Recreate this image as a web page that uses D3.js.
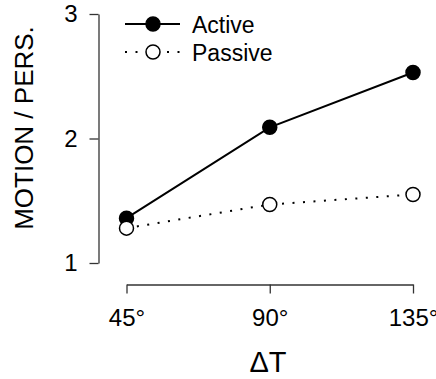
<!DOCTYPE html>
<html>
<head>
<meta charset="utf-8">
<script src="https://cdn.jsdelivr.net/npm/d3@7"></script>
<style>
  body { margin: 0; background: #fff; }
  text { font-family: "Liberation Sans", Arial, sans-serif; fill: #000; }
</style>
</head>
<body>
<div id="chart"></div>
<script>
// data
var angles = ["45°", "90°", "135°"];
var active = [1.36, 2.09, 2.53];
var passive = [1.28, 1.47, 1.55];
var yTicks = [1, 2, 3];

var svgWidth = 436, svgHeight = 379;

var svg = d3.select("#chart")
  .append("svg")
  .attr("width", svgWidth)
  .attr("height", svgHeight);

var x = d3.scalePoint()
  .domain(angles)
  .range([126.5, 413]);

var y = d3.scaleLinear()
  .domain([1, 3])
  .range([263, 14]);

// y axis
var yAxis = svg.append("g")
  .attr("transform", "translate(98.5,0)")
  .call(d3.axisLeft(y).tickValues(yTicks).tickFormat(d3.format("d"))
    .tickSize(9).tickSizeOuter(0).tickPadding(12));
yAxis.select(".domain").attr("stroke", "#333").attr("stroke-width", 1.3);
yAxis.selectAll(".tick line").attr("stroke", "#333").attr("stroke-width", 1.3);
yAxis.selectAll(".tick text").style("font-size", "24px").attr("fill", "#000");

// x axis
var xAxis = svg.append("g")
  .attr("transform", "translate(0,284.5)")
  .call(d3.axisBottom(x).tickSize(9).tickSizeOuter(0).tickPadding(15));
xAxis.select(".domain").attr("stroke", "#333").attr("stroke-width", 1.3);
xAxis.selectAll(".tick line").attr("stroke", "#333").attr("stroke-width", 1.3);
xAxis.selectAll(".tick text").style("font-size", "24px").attr("fill", "#000");

// axis titles
svg.append("text")
  .attr("transform", "translate(33,128) rotate(-90)")
  .attr("text-anchor", "middle")
  .style("font-size", "26px")
  .text("MOTION / PERS.");

svg.append("text")
  .attr("x", 268)
  .attr("y", 372)
  .attr("text-anchor", "middle")
  .style("font-size", "29px")
  .text("ΔT");

var line = d3.line()
  .x(function(d, i) { return x(angles[i]); })
  .y(function(d) { return y(d); });

// passive series (dotted, open circles)
svg.append("path")
  .datum(passive)
  .attr("d", line)
  .attr("fill", "none")
  .attr("stroke", "#000")
  .attr("stroke-width", 2)
  .attr("stroke-dasharray", "2,8.5");

// active series (solid, filled circles)
svg.append("path")
  .datum(active)
  .attr("d", line)
  .attr("fill", "none")
  .attr("stroke", "#000")
  .attr("stroke-width", 2);

svg.append("g")
  .selectAll("circle")
  .data(active)
  .enter()
  .append("circle")
    .attr("cx", function(d, i) { return x(angles[i]); })
    .attr("cy", function(d) { return y(d); })
    .attr("r", 7)
    .attr("fill", "#000")
    .attr("stroke", "#000")
    .attr("stroke-width", 1.5);

svg.append("g")
  .selectAll("circle")
  .data(passive)
  .enter()
  .append("circle")
    .attr("cx", function(d, i) { return x(angles[i]); })
    .attr("cy", function(d) { return y(d); })
    .attr("r", 7)
    .attr("fill", "#fff")
    .attr("stroke", "#000")
    .attr("stroke-width", 1.5);

// legend
var legend = svg.append("g");
var items = [
  { name: "Active", fill: "#000", dash: null, yy: 24 },
  { name: "Passive", fill: "#fff", dash: "2,8.5", yy: 52 }
];
items.forEach(function(it) {
  legend.append("line")
    .attr("x1", 125).attr("x2", 180)
    .attr("y1", it.yy).attr("y2", it.yy)
    .attr("stroke", "#000")
    .attr("stroke-width", 2)
    .attr("stroke-dasharray", it.dash);
  legend.append("circle")
    .attr("cx", 153).attr("cy", it.yy).attr("r", 7)
    .attr("fill", it.fill).attr("stroke", "#000").attr("stroke-width", 1.5);
  legend.append("text")
    .attr("x", 192).attr("y", it.yy + 8.5)
    .style("font-size", "23px")
    .text(it.name);
});
</script>
</body>
</html>
